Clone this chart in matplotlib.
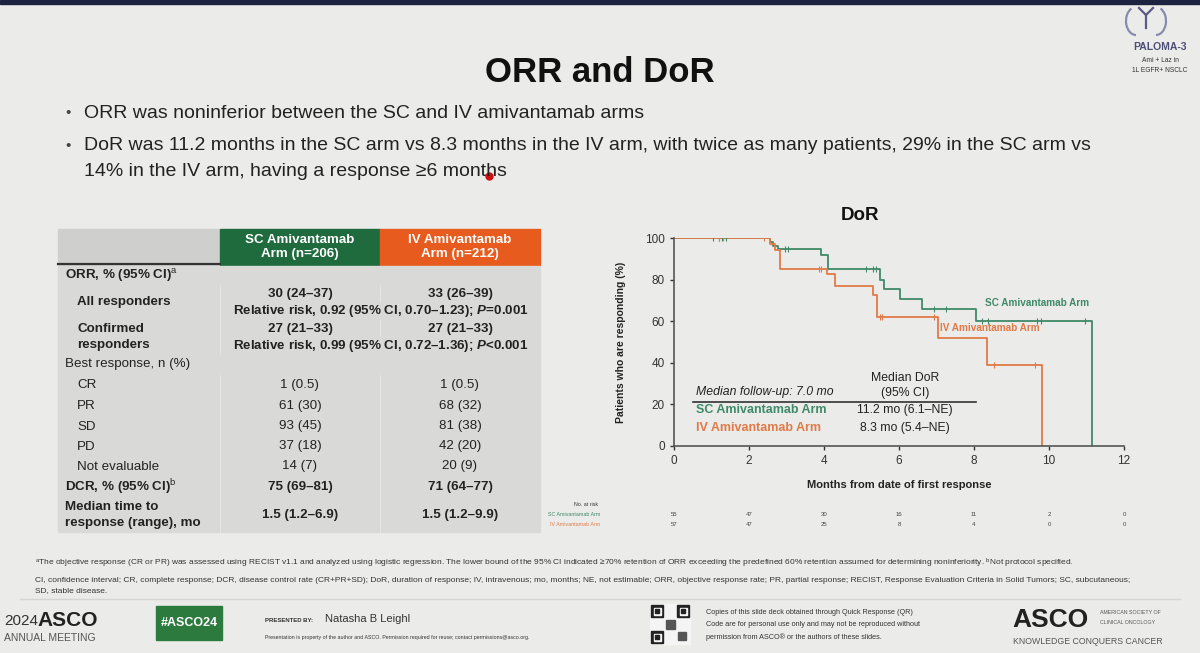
import matplotlib.pyplot as plt
import matplotlib.transforms as mtransforms
from matplotlib.patches import Rectangle, Arc

plt.rcParams['font.family'] = ['Liberation Sans', 'DejaVu Sans']
plt.rcParams['mathtext.fontset'] = 'custom'
plt.rcParams['mathtext.rm'] = 'Liberation Sans'
plt.rcParams['mathtext.it'] = 'Liberation Sans:italic:bold'
plt.rcParams['mathtext.bf'] = 'Liberation Sans:bold'

W, H = 1200, 653
BG = '#ebecea'
INK = '#222222'
HEAD_GREEN = '#1f6b3d'
HEAD_ORANGE = '#e85b1e'
SC_COL = '#3f8a68'
IV_COL = '#e07a48'

# ---- data -------------------------------------------------------------
title = 'ORR and DoR'
bullet_lines = [
    'ORR was noninferior between the SC and IV amivantamab arms',
    'DoR was 11.2 months in the SC arm vs 8.3 months in the IV arm, with twice as many patients, 29% in the SC arm vs',
    '14% in the IV arm, having a response \u22656 months',
]

arm_headers = ['SC Amivantamab\nArm (n=206)', 'IV Amivantamab\nArm (n=212)']
row_labels = ['ORR, % (95% CI)$^{\\mathrm{a}}$', 'All responders', 'Confirmed\nresponders',
              'Best response, n (%)', 'CR', 'PR', 'SD', 'PD', 'Not evaluable',
              'DCR, % (95% CI)$^{\\mathrm{b}}$', 'Median time to\nresponse (range), mo']
sc_vals = ['', '30 (24\u201337)', '27 (21\u201333)', '', '1 (0.5)', '61 (30)', '93 (45)',
           '37 (18)', '14 (7)', '75 (69\u201381)', '1.5 (1.2\u20136.9)']
iv_vals = ['', '33 (26\u201339)', '27 (21\u201333)', '', '1 (0.5)', '68 (32)', '81 (38)',
           '42 (20)', '20 (9)', '71 (64\u201377)', '1.5 (1.2\u20139.9)']
rel_risk = {1: 'Relative risk, 0.92 (95% CI, 0.70\u20131.23); $P$=0.001',
            2: 'Relative risk, 0.99 (95% CI, 0.72\u20131.36); $P$<0.001'}

# Kaplan-Meier steps (months, % responding)
sc_t = [0, 2.55, 2.65, 2.78, 3.92, 4.11, 5.48, 5.59, 6.02, 6.62, 8.04, 11.15]
sc_s = [100, 98, 96, 94.5, 92, 85, 80, 75.5, 70.5, 65.8, 60.2, 0]
iv_t = [0, 2.55, 2.68, 2.82, 4.08, 4.3, 5.3, 5.42, 7.04, 8.34, 9.8]
iv_s = [100, 97, 94, 85.2, 82.5, 77, 72.5, 62, 52, 39, 0]
sc_cens = [1.05, 1.2, 1.29, 1.39, 2.96, 3.05, 5.11, 5.31, 5.38, 6.93, 7.24,
           8.22, 8.36, 9.69, 9.78, 10.95]
iv_cens = [1.2, 1.3, 2.41, 3.87, 3.92, 5.5, 5.55, 6.93, 8.52, 9.62]

risk_months = [0, 2, 4, 6, 8, 10, 12]
sc_risk = [55, 47, 30, 16, 11, 2, 0]
iv_risk = [57, 47, 25, 8, 4, 0, 0]

footnotes = [
    '$^{\\mathrm{a}}$The objective response (CR or PR) was assessed using RECIST v1.1 and analyzed using logistic regression. '
    'The lower bound of the 95% CI indicated \u226570% retention of ORR exceeding the predefined 60% retention assumed for '
    'determining noninferiority. $^{\\mathrm{b}}$Not protocol specified.',
    'CI, confidence interval; CR, complete response; DCR, disease control rate (CR+PR+SD); DoR, duration of response; '
    'IV, intravenous; mo, months; NE, not estimable; ORR, objective response rate; PR, partial response; RECIST, '
    'Response Evaluation Criteria in Solid Tumors; SC, subcutaneous;',
    'SD, stable disease.',
]


def level_at(times, surv, t):
    val = surv[0]
    for ti, si in zip(times, surv):
        if ti <= t:
            val = si
    return val


# ---- figure -----------------------------------------------------------
fig = plt.figure(figsize=(12, 6.53), dpi=100)
fig.patch.set_facecolor(BG)
bg = fig.add_axes([0, 0, 1, 1])
bg.set_xlim(0, W)
bg.set_ylim(H, 0)
bg.axis('off')

bg.add_patch(Rectangle((0, 0), W, 4, color='#1b2340'))
bg.text(600, 72, title, ha='center', va='center', fontsize=25, weight='bold', color='#111111')

# bullets
for y, line, dot in zip([113, 146, 172], bullet_lines, [True, True, False]):
    if dot:
        bg.text(68, y, '\u2022', ha='center', va='center', fontsize=11, color='#444')
    bg.text(84, y, line, ha='left', va='center', fontsize=14, color=INK)
bg.plot([489], [176], marker='o', ms=5, color='#d01010')

# PALOMA-3 badge
bg.add_patch(Arc((1136, 21), 20, 28, theta1=90, theta2=250, color='#8a8aae', lw=1.6))
bg.add_patch(Arc((1156, 21), 20, 28, theta1=-70, theta2=90, color='#8a8aae', lw=1.6))
bg.plot([1139, 1146, 1153], [8, 15, 8], color='#5a5a88', lw=1.6)
bg.plot([1146, 1146], [15, 28], color='#5a5a88', lw=1.6)
bg.text(1160, 47, 'PALOMA-3', ha='center', va='center', fontsize=7.5, color='#4d4d78', weight='bold')
bg.text(1160, 60, 'Ami + Laz in', ha='center', va='center', fontsize=4.8, color='#333')
bg.text(1160, 71, '1L EGFR+ NSCLC', ha='center', va='center', fontsize=4.8, color='#333')

# ---- table ------------------------------------------------------------
x_lab, x_sc, x_iv, x_end = 58, 220, 380, 540
cell = '#d9dad8'
fs = 9.6
bg.add_patch(Rectangle((x_lab, 229), x_sc - x_lab, 36, color='#cfd0ce'))
bg.plot([x_lab, x_sc], [264, 264], color='#333', lw=1.6)
bg.add_patch(Rectangle((x_sc, 229), x_iv - x_sc, 36, color=HEAD_GREEN))
bg.add_patch(Rectangle((x_iv, 229), x_end - x_iv, 36, color=HEAD_ORANGE))
for hdr, cx in zip(arm_headers, [300, 460]):
    bg.text(cx, 247, hdr, ha='center', va='center', fontsize=9.6, weight='bold', color='white', linespacing=1.2)

row_bounds = [(266, 284), (285, 319), (320, 354), (355, 374), (375, 395), (396, 416),
              (417, 436), (437, 456), (457, 476), (477, 497), (498, 532)]
bold_rows = {0, 1, 2, 9, 10}
indent_rows = {1, 2, 4, 5, 6, 7, 8}
for i, (top, bot) in enumerate(row_bounds):
    if sc_vals[i] == '':
        bg.add_patch(Rectangle((x_lab, top), x_end - x_lab, bot - top, color=cell))
    else:
        bg.add_patch(Rectangle((x_lab, top), x_sc - x_lab - 1, bot - top, color=cell))
        if i in rel_risk:
            mid = (top + bot) / 2
            bg.add_patch(Rectangle((x_sc + 1, top), x_iv - x_sc - 2, mid - top - 1, color=cell))
            bg.add_patch(Rectangle((x_iv + 1, top), x_end - x_iv - 1, mid - top - 1, color=cell))
            bg.add_patch(Rectangle((x_sc + 1, mid), x_end - x_sc - 1, bot - mid, color=cell))
        else:
            bg.add_patch(Rectangle((x_sc + 1, top), x_iv - x_sc - 2, bot - top, color=cell))
            bg.add_patch(Rectangle((x_iv + 1, top), x_end - x_iv - 1, bot - top, color=cell))
    w = 'bold' if i in bold_rows else 'normal'
    lx = 77 if i in indent_rows else 65
    cy = (top + bot) / 2
    bg.text(lx, cy, row_labels[i], ha='left', va='center', fontsize=fs, weight=w, color=INK, linespacing=1.35)
    if i in rel_risk:
        bg.text(300, top + 9, sc_vals[i], ha='center', va='center', fontsize=fs, weight=w, color=INK)
        bg.text(460, top + 9, iv_vals[i], ha='center', va='center', fontsize=fs, weight=w, color=INK)
        bg.text(381, bot - 8, rel_risk[i], ha='center', va='center', fontsize=fs, weight='bold', color=INK)
    elif sc_vals[i]:
        bg.text(300, cy, sc_vals[i], ha='center', va='center', fontsize=fs, weight=w, color=INK)
        bg.text(460, cy, iv_vals[i], ha='center', va='center', fontsize=fs, weight=w, color=INK)

# ---- Kaplan-Meier -----------------------------------------------------
ax = fig.add_axes([674 / W, 1 - 446 / H, 450 / W, 208 / H])
ax.set_facecolor('none')
ax.step(sc_t, sc_s, where='post', color=SC_COL, lw=1.3)
ax.step(iv_t, iv_s, where='post', color=IV_COL, lw=1.3)
ax.plot(sc_cens, [level_at(sc_t, sc_s, t) for t in sc_cens], ls='none', marker='|', ms=4, mew=0.8, color=SC_COL)
ax.plot(iv_cens, [level_at(iv_t, iv_s, t) for t in iv_cens], ls='none', marker='|', ms=4, mew=0.8, color=IV_COL)
ax.set_xlim(0, 12)
ax.set_ylim(0, 100)
ax.set_xticks(risk_months)
ax.set_yticks(range(0, 101, 20))
ax.tick_params(labelsize=8.5, length=3, width=1, colors='#333')
for s in ['top', 'right']:
    ax.spines[s].set_visible(False)
for s in ['left', 'bottom']:
    ax.spines[s].set_color('#555')
    ax.spines[s].set_linewidth(1.2)
ax.set_xlabel('Months from date of first response', fontsize=8, weight='bold', color=INK, labelpad=9)
ax.set_ylabel('Patients who are responding (%)', fontsize=7.5, weight='bold', color=INK, labelpad=14)
bg.text(860, 215, 'DoR', ha='center', va='center', fontsize=13.5, weight='bold', color='#111')

ax.text(8.3, 68.8, 'SC Amivantamab Arm', fontsize=7.2, weight='bold', color=SC_COL, va='center')
ax.text(7.09, 56.7, 'IV Amivantamab Arm', fontsize=7.2, weight='bold', color=IV_COL, va='center')
ax.text(0.6, 26, 'Median follow-up: 7.0 mo', fontsize=8.8, style='italic', color=INK, va='center')
ax.text(6.16, 29, 'Median DoR\n(95% CI)', fontsize=8.8, color=INK, ha='center', va='center', linespacing=1.3)
ax.plot([0.5, 8.05], [21, 21], color='#333', lw=1.2)
ax.text(0.6, 17.3, 'SC Amivantamab Arm', fontsize=9, weight='bold', color=SC_COL, va='center')
ax.text(6.16, 17.3, '11.2 mo (6.1\u2013NE)', fontsize=8.8, color=INK, ha='center', va='center')
ax.text(0.6, 8.7, 'IV Amivantamab Arm', fontsize=9, weight='bold', color=IV_COL, va='center')
ax.text(6.16, 8.7, '8.3 mo (5.4\u2013NE)', fontsize=8.8, color=INK, ha='center', va='center')

# numbers at risk
rt = mtransforms.blended_transform_factory(ax.transData, bg.transData)
bg.text(598, 505, 'No. at risk', ha='right', va='center', fontsize=3.8, color='#333')
bg.text(600, 514, 'SC Amivantamab Arm', ha='right', va='center', fontsize=3.8, color=SC_COL)
bg.text(600, 524, 'IV Amivantamab Arm', ha='right', va='center', fontsize=3.8, color=IV_COL)
for m, a, b in zip(risk_months, sc_risk, iv_risk):
    ax.text(m, 514, str(a), transform=rt, ha='center', va='center', fontsize=4.3, color='#444', clip_on=False)
    ax.text(m, 524, str(b), transform=rt, ha='center', va='center', fontsize=4.3, color='#444', clip_on=False)

# ---- footnotes and footer ---------------------------------------------
for y, line in zip([563, 580, 591], footnotes):
    bg.text(35, y, line, ha='left', va='center', fontsize=6.0, color='#333')
bg.plot([20, 1180], [599, 599], color='#d4d5d3', lw=1)

bg.text(4, 621, '2024', ha='left', va='center', fontsize=11, color='#333')
bg.text(37, 620, 'ASCO', ha='left', va='center', fontsize=15, weight='bold', color='#222')
bg.text(4, 638, 'ANNUAL MEETING', ha='left', va='center', fontsize=7.5, color='#555')
bg.add_patch(Rectangle((156, 606), 66, 34, color='#2d7a3e'))
bg.text(189, 623, '#ASCO24', ha='center', va='center', fontsize=9, weight='bold', color='white')
bg.text(265, 620, 'PRESENTED BY:', ha='left', va='center', fontsize=4.3, weight='bold', color='#333')
bg.text(325, 619, 'Natasha B Leighl', ha='left', va='center', fontsize=8, color='#333')
bg.text(265, 637, 'Presentation is property of the author and ASCO. Permission required for reuse; contact permissions@asco.org.',
        ha='left', va='center', fontsize=3.8, color='#333')

bg.add_patch(Rectangle((650, 604), 40, 40, color='#f4f4f4'))
for qx, qy in [(651, 605), (677, 605), (651, 631)]:
    bg.add_patch(Rectangle((qx, qy), 12, 12, color='#222'))
    bg.add_patch(Rectangle((qx + 2.5, qy + 2.5), 7, 7, color='#f4f4f4'))
    bg.add_patch(Rectangle((qx + 4, qy + 4), 4, 4, color='#222'))
bg.add_patch(Rectangle((666, 620), 9, 9, color='#555'))
bg.add_patch(Rectangle((678, 632), 8, 8, color='#555'))
for y, line in zip([613, 625, 637], ['Copies of this slide deck obtained through Quick Response (QR)',
                                     'Code are for personal use only and may not be reproduced without',
                                     'permission from ASCO\u00ae or the authors of these slides.']):
    bg.text(706, y, line, ha='left', va='center', fontsize=5.2, color='#333')

bg.text(1012, 620, 'ASCO', ha='left', va='center', fontsize=19, weight='bold', color='#222')
bg.text(1100, 612, 'AMERICAN SOCIETY OF', ha='left', va='center', fontsize=3.8, color='#555')
bg.text(1100, 622, 'CLINICAL ONCOLOGY', ha='left', va='center', fontsize=3.8, color='#555')
bg.text(1013, 641, 'KNOWLEDGE CONQUERS CANCER', ha='left', va='center', fontsize=6.3, color='#555')

fig.savefig('out.png', dpi=100, facecolor=BG)
